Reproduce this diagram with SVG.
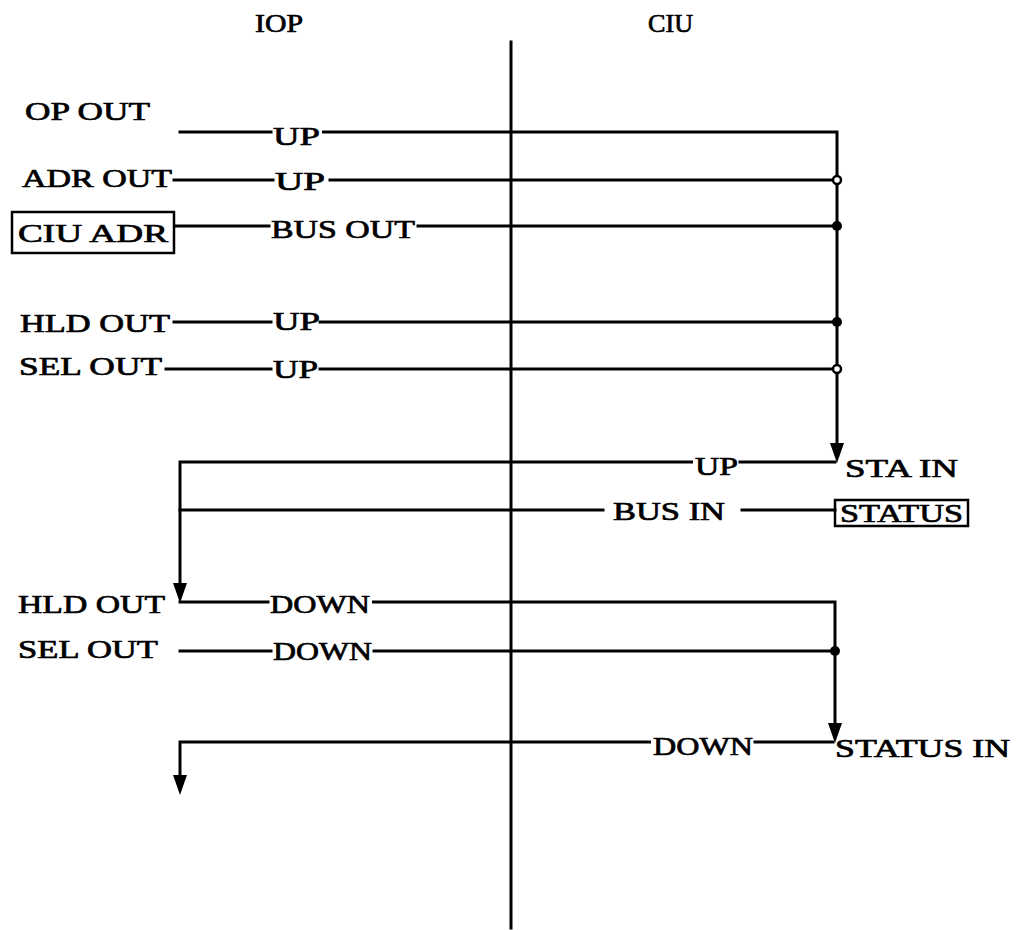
<svg xmlns="http://www.w3.org/2000/svg" width="1019" height="930" viewBox="0 0 1019 930">
<style>
text{font-family:"Liberation Serif","DejaVu Serif",serif;font-size:26px;fill:#000;stroke:#000;stroke-width:0.7}
.ln{stroke:#000;stroke-width:3;fill:none;stroke-linecap:square}
.ar{stroke:#000;stroke-width:3;fill:none;stroke-linecap:butt}
.box{fill:none;stroke:#000;stroke-width:2.5}
.open{fill:#fff;stroke:#000;stroke-width:2.5}
.dot{fill:#000}
</style>
<defs>
<marker id="arr" markerUnits="userSpaceOnUse" markerWidth="20" markerHeight="14" viewBox="0 0 20 14" refX="12" refY="7" orient="auto">
<path d="M0,0 L20,7 L0,14 z" fill="#000"/>
</marker>
</defs>
<rect width="1019" height="930" fill="#fff"/>
<g id="headers">
<text x="255" y="32" textLength="48" lengthAdjust="spacingAndGlyphs">IOP</text>
<text x="648" y="32" textLength="45" lengthAdjust="spacingAndGlyphs">CIU</text>
</g>
<g id="connectors">
<line class="ln" x1="511" y1="42" x2="511" y2="928"/>
<line class="ln" x1="180" y1="132" x2="271" y2="132"/>
<polyline class="ar" points="322,132 837,132 837,455" marker-end="url(#arr)"/>
<line class="ln" x1="174" y1="180" x2="273" y2="180"/>
<line class="ln" x1="330" y1="180" x2="837" y2="180"/>
<line class="ln" x1="176" y1="226" x2="269" y2="226"/>
<line class="ln" x1="418" y1="226" x2="837" y2="226"/>
<line class="ln" x1="174" y1="322" x2="271" y2="322"/>
<line class="ln" x1="320" y1="322" x2="837" y2="322"/>
<line class="ln" x1="166" y1="369" x2="271" y2="369"/>
<line class="ln" x1="320" y1="369" x2="837" y2="369"/>
<line class="ln" x1="740" y1="462" x2="835" y2="462"/>
<polyline class="ar" points="693,462 180,462 180,595" marker-end="url(#arr)"/>
<line class="ln" x1="180" y1="510" x2="603" y2="510"/>
<line class="ln" x1="742" y1="510" x2="835" y2="510"/>
<line class="ln" x1="180" y1="602" x2="268" y2="602"/>
<polyline class="ar" points="372,602 835,602 835,735" marker-end="url(#arr)"/>
<line class="ln" x1="180" y1="651" x2="271" y2="651"/>
<line class="ln" x1="374" y1="651" x2="835" y2="651"/>
<line class="ln" x1="755" y1="742" x2="833" y2="742"/>
<polyline class="ar" points="651,742 180,742 180,787" marker-end="url(#arr)"/>
<circle class="open" cx="837" cy="180" r="4"/>
<circle class="dot" cx="837" cy="226" r="5"/>
<circle class="dot" cx="837" cy="322" r="5"/>
<circle class="open" cx="837" cy="369" r="4"/>
<circle class="dot" cx="835" cy="651" r="5"/>
</g>
<g id="n-op-out"><text x="25" y="120" textLength="125" lengthAdjust="spacingAndGlyphs">OP OUT</text></g>
<g id="l-up1"><text x="273" y="145" textLength="47" lengthAdjust="spacingAndGlyphs">UP</text></g>
<g id="n-adr-out"><text x="22" y="187" textLength="150" lengthAdjust="spacingAndGlyphs">ADR OUT</text></g>
<g id="l-up2"><text x="275" y="190" textLength="50" lengthAdjust="spacingAndGlyphs">UP</text></g>
<g id="n-ciu-adr"><rect class="box" x="12" y="212" width="162" height="41"/><text x="18" y="242" textLength="150" lengthAdjust="spacingAndGlyphs">CIU ADR</text></g>
<g id="l-bus-out"><text x="271" y="238" textLength="144" lengthAdjust="spacingAndGlyphs">BUS OUT</text></g>
<g id="n-hld-out1"><text x="20" y="332" textLength="150" lengthAdjust="spacingAndGlyphs">HLD OUT</text></g>
<g id="l-up4"><text x="273" y="330" textLength="47" lengthAdjust="spacingAndGlyphs">UP</text></g>
<g id="n-sel-out1"><text x="19" y="375" textLength="143" lengthAdjust="spacingAndGlyphs">SEL OUT</text></g>
<g id="l-up5"><text x="273" y="378" textLength="45" lengthAdjust="spacingAndGlyphs">UP</text></g>
<g id="l-up6"><text x="695" y="475" textLength="43" lengthAdjust="spacingAndGlyphs">UP</text></g>
<g id="n-sta-in"><text x="845" y="477" textLength="113" lengthAdjust="spacingAndGlyphs">STA IN</text></g>
<g id="l-bus-in"><text x="613" y="520" textLength="112" lengthAdjust="spacingAndGlyphs">BUS IN</text></g>
<g id="n-status"><rect class="box" x="835" y="500" width="133" height="26"/><text x="840" y="522" textLength="123" lengthAdjust="spacingAndGlyphs">STATUS</text></g>
<g id="n-hld-out2"><text x="18" y="613" textLength="147" lengthAdjust="spacingAndGlyphs">HLD OUT</text></g>
<g id="l-down1"><text x="270" y="613" textLength="100" lengthAdjust="spacingAndGlyphs">DOWN</text></g>
<g id="n-sel-out2"><text x="18" y="658" textLength="140" lengthAdjust="spacingAndGlyphs">SEL OUT</text></g>
<g id="l-down2"><text x="273" y="660" textLength="99" lengthAdjust="spacingAndGlyphs">DOWN</text></g>
<g id="l-down3"><text x="653" y="755" textLength="100" lengthAdjust="spacingAndGlyphs">DOWN</text></g>
<g id="n-status-in"><text x="835" y="757" textLength="175" lengthAdjust="spacingAndGlyphs">STATUS IN</text></g>
</svg>
